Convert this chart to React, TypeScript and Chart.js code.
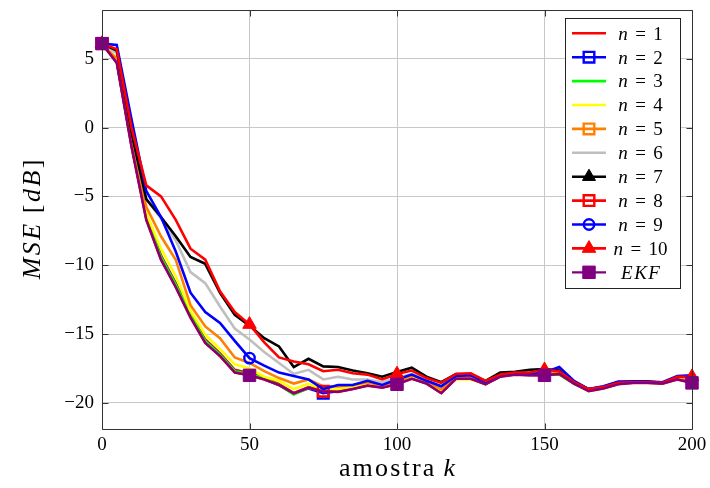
import React, { useEffect, useRef } from "react";
import { Chart, registerables } from "chart.js";

Chart.register(...registerables);

// ---------- data ----------
const kValues = [0, 5, 10, 15, 20, 25, 30, 35, 40, 45, 50, 55, 60, 65, 70, 75, 80, 85, 90, 95, 100, 105, 110, 115, 120, 125, 130, 135, 140, 145, 150, 155, 160, 165, 170, 175, 180, 185, 190, 195, 200];

const mseN1 = [6.1, 4.9, -1.1, -6.4, -9.3, -11.3, -13.5, -15.4, -16.4, -17.6, -17.85, -18.15, -18.65, -19.3, -18.85, -19.1, -19.1, -18.9, -18.7, -18.8, -18.6, -18.2, -18.5, -19.2, -18.2, -18.2, -18.6, -18.05, -17.9, -17.95, -17.95, -17.9, -18.55, -19.1, -18.9, -18.6, -18.5, -18.5, -18.55, -18.25, -18.5];
const mseN2 = [6.1, 4.8, -1.2, -6.5, -9.4, -11.4, -13.6, -15.5, -16.5, -17.7, -17.9, -18.25, -18.7, -19.35, -18.95, -19.3, -19.15, -18.95, -18.7, -18.85, -18.6, -18.2, -18.55, -19.25, -18.2, -18.2, -18.6, -18.05, -17.9, -17.95, -17.95, -17.9, -18.6, -19.1, -18.9, -18.6, -18.5, -18.5, -18.55, -18.25, -18.5];
const mseN3 = [6.1, 4.8, -1.2, -6.5, -9.4, -11.4, -13.6, -15.5, -16.5, -17.7, -17.9, -18.2, -18.7, -19.4, -18.9, -19.15, -19.15, -18.95, -18.7, -18.85, -18.6, -18.2, -18.55, -19.2, -18.2, -18.2, -18.6, -18.05, -17.9, -17.95, -17.95, -17.95, -18.6, -19.1, -18.9, -18.6, -18.5, -18.5, -18.55, -18.25, -18.5];
const mseN4 = [6.1, 5.0, -0.9, -6.2, -8.8, -10.8, -13.3, -15.05, -16.1, -17.2, -17.5, -18.1, -18.4, -19.0, -18.6, -19.1, -19.0, -18.9, -18.6, -18.8, -18.55, -18.1, -18.5, -19.1, -18.3, -18.3, -18.6, -18.05, -17.9, -17.95, -17.9, -17.8, -18.5, -19.0, -18.85, -18.6, -18.5, -18.5, -18.55, -18.2, -18.4];
const mseN5 = [6.1, 5.0, -0.6, -5.75, -7.9, -9.6, -12.9, -14.45, -15.3, -16.7, -17.1, -17.7, -18.2, -18.6, -18.3, -18.8, -18.8, -18.7, -18.5, -18.75, -18.5, -18.0, -18.45, -19.0, -18.1, -18.1, -18.55, -18.0, -17.85, -17.95, -17.85, -17.7, -18.5, -19.0, -18.85, -18.55, -18.5, -18.5, -18.55, -18.2, -18.3];
const mseN6 = [6.1, 5.4, -0.3, -5.2, -6.6, -8.2, -10.5, -11.3, -13.0, -14.6, -15.4, -16.3, -17.1, -17.9, -17.6, -18.3, -18.1, -18.3, -18.3, -18.5, -18.2, -17.9, -18.35, -18.8, -18.0, -18.0, -18.5, -17.95, -17.85, -17.9, -17.8, -17.6, -18.45, -19.0, -18.8, -18.5, -18.45, -18.45, -18.5, -18.15, -18.1];
const mseN7 = [6.1, 5.6, -0.4, -5.2, -6.5, -7.9, -9.4, -9.9, -12.0, -13.6, -14.4, -15.3, -15.9, -17.4, -16.8, -17.35, -17.4, -17.65, -17.85, -18.1, -17.75, -17.45, -18.1, -18.5, -17.9, -17.9, -18.4, -17.8, -17.75, -17.6, -17.55, -17.65, -18.5, -19.0, -18.85, -18.5, -18.45, -18.45, -18.55, -18.1, -18.1];
const mseN8 = [6.1, 4.7, -1.4, -6.7, -9.6, -11.6, -13.8, -15.65, -16.6, -17.8, -18.0, -18.3, -18.7, -19.3, -18.9, -19.15, -19.2, -19.0, -18.75, -18.9, -18.65, -18.25, -18.6, -19.3, -18.25, -18.25, -18.65, -18.1, -17.95, -18.0, -18.0, -17.9, -18.6, -19.15, -18.95, -18.65, -18.55, -18.55, -18.6, -18.3, -18.55];
const mseN9 = [6.1, 6.0, 0.6, -4.6, -6.5, -9.0, -12.0, -13.4, -14.2, -15.5, -16.75, -17.3, -17.8, -18.05, -18.3, -19.0, -18.7, -18.7, -18.4, -18.7, -18.3, -17.95, -18.4, -18.8, -18.05, -18.0, -18.5, -18.0, -17.9, -17.9, -17.8, -17.4, -18.4, -19.0, -18.8, -18.45, -18.45, -18.45, -18.5, -18.05, -18.0];
const mseN10 = [6.1, 5.7, 0.0, -4.2, -5.0, -6.7, -8.8, -9.6, -11.9, -13.4, -14.3, -15.6, -16.7, -17.0, -17.2, -17.7, -17.6, -17.85, -17.95, -18.3, -17.9, -17.65, -18.2, -18.55, -17.9, -17.85, -18.4, -17.95, -17.8, -17.8, -17.6, -17.7, -18.5, -19.0, -18.85, -18.55, -18.5, -18.5, -18.55, -18.1, -18.1];
const mseEKF = [6.1, 4.7, -1.4, -6.7, -9.6, -11.6, -13.8, -15.65, -16.6, -17.8, -18.0, -18.3, -18.7, -19.3, -18.9, -19.2, -19.2, -19.0, -18.75, -18.9, -18.65, -18.25, -18.6, -19.3, -18.25, -18.25, -18.65, -18.1, -17.95, -18.0, -18.0, -17.9, -18.6, -19.15, -18.95, -18.65, -18.55, -18.55, -18.6, -18.3, -18.55];

const seriesNames = ["1", "2", "3", "4", "5", "6", "7", "8", "9", "10", "EKF"];
const xTicks = [0, 50, 100, 150, 200];
const yTicks = [-20, -15, -10, -5, 0, 5];

// ---------- styling ----------
type Marker = "none" | "rectOpen" | "rectFilled" | "circle" | "triangle";
interface SeriesStyle {
  values: number[];
  color: string;
  width: number;
  marker: Marker;
  marks: number[];
  r: number;
}

const styles: SeriesStyle[] = [
  { values: mseN1, color: "#ff0000", width: 2.6, marker: "none", marks: [], r: 0 },
  { values: mseN2, color: "#0000ff", width: 2.6, marker: "rectOpen", marks: [0, 75], r: 7.5 },
  { values: mseN3, color: "#00ff00", width: 2.6, marker: "none", marks: [], r: 0 },
  { values: mseN4, color: "#ffff00", width: 2.6, marker: "none", marks: [], r: 0 },
  { values: mseN5, color: "#ff8000", width: 2.6, marker: "rectOpen", marks: [0], r: 7.5 },
  { values: mseN6, color: "#bfbfbf", width: 2.6, marker: "none", marks: [], r: 0 },
  { values: mseN7, color: "#000000", width: 2.6, marker: "triangle", marks: [0], r: 7.5 },
  { values: mseN8, color: "#ff0000", width: 2.6, marker: "rectOpen", marks: [0, 75], r: 7.5 },
  { values: mseN9, color: "#0000ff", width: 2.6, marker: "circle", marks: [50], r: 5.2 },
  { values: mseN10, color: "#ff0000", width: 2.6, marker: "triangle", marks: [0, 50, 100, 150, 200], r: 7.8 },
  { values: mseEKF, color: "#800080", width: 2.2, marker: "rectFilled", marks: [0, 50, 100, 150, 200], r: 8.8 },
];

const FONT = '"Liberation Serif", "Times New Roman", serif';
const font = (it: boolean, size: number) => `${it ? "italic " : ""}${size}px ${FONT}`;

interface Run { t: string; it?: boolean; gap?: number }

function measureRuns(ctx: CanvasRenderingContext2D, runs: Run[], size: number, tracking: number) {
  let w = 0;
  runs.forEach((r, ri) => {
    w += r.gap || 0;
    ctx.font = font(!!r.it, size);
    const chars = Array.from(r.t);
    chars.forEach((c, ci) => {
      w += ctx.measureText(c).width;
      if (!(ri === runs.length - 1 && ci === chars.length - 1)) w += tracking;
    });
  });
  return w;
}

function drawRuns(ctx: CanvasRenderingContext2D, runs: Run[], x: number, y: number, size: number, tracking: number) {
  let cx = x;
  runs.forEach((r) => {
    cx += r.gap || 0;
    ctx.font = font(!!r.it, size);
    Array.from(r.t).forEach((c) => {
      ctx.fillText(c, cx, y);
      cx += ctx.measureText(c).width + tracking;
    });
  });
}

function drawMarker(ctx: CanvasRenderingContext2D, s: SeriesStyle, x: number, y: number) {
  const r = s.r;
  ctx.save();
  ctx.strokeStyle = s.color;
  ctx.fillStyle = s.color;
  ctx.beginPath();
  if (s.marker === "rectOpen" || s.marker === "rectFilled") {
    const h = r * Math.SQRT1_2;
    ctx.rect(x - h, y - h, 2 * h, 2 * h);
  } else if (s.marker === "circle") {
    ctx.arc(x, y, r, 0, Math.PI * 2);
  } else if (s.marker === "triangle") {
    ctx.moveTo(x, y - r);
    ctx.lineTo(x + 0.866 * r, y + 0.5 * r);
    ctx.lineTo(x - 0.866 * r, y + 0.5 * r);
    ctx.closePath();
  }
  if (s.marker === "rectFilled" || s.marker === "triangle") {
    ctx.fill();
    ctx.lineWidth = 1;
    ctx.stroke();
  } else {
    ctx.lineWidth = 2.4;
    ctx.stroke();
  }
  ctx.restore();
}

const decorPlugin = {
  id: "decor",
  afterDatasetsDraw(chart: any) {
    const { ctx, chartArea: a, scales } = chart;
    const x = scales.x;
    const y = scales.y;
    ctx.save();
    ctx.strokeStyle = "#333";
    ctx.lineWidth = 1;
    const L = Math.round(a.left) + 0.5;
    const R = Math.round(a.right) + 0.5;
    const T = Math.round(a.top) + 0.5;
    const B = Math.round(a.bottom) + 0.5;
    ctx.beginPath();
    const tl = 6;
    xTicks.forEach((v) => {
      const px = Math.round(x.getPixelForValue(v)) + 0.5;
      ctx.moveTo(px, B);
      ctx.lineTo(px, B - tl);
      ctx.moveTo(px, T);
      ctx.lineTo(px, T + tl);
    });
    yTicks.forEach((v) => {
      const py = Math.round(y.getPixelForValue(v)) + 0.5;
      ctx.moveTo(L, py);
      ctx.lineTo(L + tl, py);
      ctx.moveTo(R, py);
      ctx.lineTo(R - tl, py);
    });
    ctx.stroke();
    ctx.beginPath();
    ctx.rect(L, T, R - L, B - T);
    ctx.stroke();
    ctx.restore();
  },
  afterDraw(chart: any) {
    const { ctx, chartArea: a } = chart;
    ctx.save();
    ctx.fillStyle = "#000";
    ctx.textBaseline = "alphabetic";

    // x title
    const xRuns: Run[] = [{ t: "amostra" }, { t: "k", it: true, gap: 7 }];
    const xs = 26;
    const xw = measureRuns(ctx, xRuns, xs, 2.2);
    drawRuns(ctx, xRuns, (a.left + a.right) / 2 - xw / 2, 476, xs, 2.2);

    // y title
    const yRuns: Run[] = [{ t: "MSE", it: true }, { t: "[", gap: 8 }, { t: "dB", it: true }, { t: "]" }];
    const ys = 26;
    const yw = measureRuns(ctx, yRuns, ys, 2.5);
    ctx.save();
    ctx.translate(40, (a.top + a.bottom) / 2);
    ctx.rotate(-Math.PI / 2);
    drawRuns(ctx, yRuns, -yw / 2, 0, ys, 2.5);
    ctx.restore();

    // legend
    const bx = 565.5, by = 18.5, bw = 115, bh = 270;
    ctx.fillStyle = "#fff";
    ctx.fillRect(bx, by, bw, bh);
    ctx.strokeStyle = "#222";
    ctx.lineWidth = 1;
    ctx.strokeRect(bx, by, bw, bh);
    const rowH = 23.9;
    const ls = 19;
    seriesNames.forEach((name, i) => {
      const s = styles[i];
      const cy = 33.3 + i * rowH;
      ctx.save();
      ctx.strokeStyle = s.color;
      ctx.lineWidth = s.width;
      ctx.beginPath();
      ctx.moveTo(572, cy);
      ctx.lineTo(606, cy);
      ctx.stroke();
      ctx.restore();
      if (s.marker !== "none") drawMarker(ctx, s, 589, cy);
      const runs: Run[] = name === "EKF"
        ? [{ t: "EKF", it: true }]
        : [{ t: "n", it: true }, { t: "=", gap: 7.5 }, { t: name, gap: 7.5 }];
      const trk = name === "EKF" ? 1.5 : 0;
      const w = measureRuns(ctx, runs, ls, trk);
      ctx.fillStyle = "#000";
      drawRuns(ctx, runs, 640.5 - w / 2, cy + 6.3, ls, trk);
    });
    ctx.restore();
  },
};

const fmt = (v: number) => (v < 0 ? "\u2212" + Math.abs(v) : String(v));

const zeroPad = (s: any) => {
  s.paddingTop = 0;
  s.paddingBottom = 0;
  s.paddingLeft = 0;
  s.paddingRight = 0;
};

export default function App() {
  const ref = useRef<HTMLCanvasElement>(null);
  useEffect(() => {
    const canvas = ref.current;
    if (!canvas) return;
    const datasets = styles.map((s, i) => ({
      label: seriesNames[i],
      data: kValues.map((k, j) => ({ x: k, y: s.values[j] })),
      borderColor: s.color,
      backgroundColor: s.color,
      borderWidth: s.width,
      pointStyle: s.marker === "circle" ? "circle" : s.marker === "triangle" ? "triangle" : "rect",
      pointRadius: kValues.map((k) => (s.marks.includes(k) ? s.r : 0)),
      pointHoverRadius: kValues.map((k) => (s.marks.includes(k) ? s.r : 0)),
      pointBorderWidth: s.marker === "rectFilled" || s.marker === "triangle" ? 1 : 2.4,
      pointBackgroundColor: s.marker === "rectFilled" || s.marker === "triangle" ? s.color : "rgba(0,0,0,0)",
      pointBorderColor: s.color,
      fill: false,
      tension: 0,
      order: styles.length - i,
      clip: false,
    }));
    const tickFont = { family: FONT, size: 19 };
    const chart = new Chart(canvas, {
      type: "line",
      data: { datasets } as any,
      options: {
        responsive: false,
        animation: false,
        devicePixelRatio: 1,
        events: [],
        layout: { padding: { top: 9, right: 18, left: 0, bottom: 0 } },
        plugins: { legend: { display: false }, tooltip: { enabled: false } },
        scales: {
          x: {
            type: "linear",
            min: 0,
            max: 200,
            afterBuildTicks: (s: any) => {
              s.ticks = xTicks.map((v) => ({ value: v }));
            },
            afterFit: (s: any) => {
              s.height = 59;
              zeroPad(s);
            },
            grid: { color: "#c8c8c8", lineWidth: 1, drawTicks: false },
            border: { display: false },
            ticks: { padding: 5, color: "#000", font: tickFont, maxRotation: 0, callback: (v: any) => fmt(Number(v)) },
          },
          y: {
            type: "linear",
            min: -21.9,
            max: 8.55,
            afterBuildTicks: (s: any) => {
              s.ticks = yTicks.map((v) => ({ value: v }));
            },
            afterFit: (s: any) => {
              s.width = 102;
              zeroPad(s);
            },
            grid: { color: "#c8c8c8", lineWidth: 1, drawTicks: false },
            border: { display: false },
            ticks: { padding: 8, color: "#000", font: tickFont, callback: (v: any) => fmt(Number(v)) },
          },
        },
      } as any,
      plugins: [decorPlugin],
    });
    return () => chart.destroy();
  }, []);
  return (
    <div style={{ position: "absolute", left: 0, top: 0, width: 710, height: 488, background: "#fff" }}>
      <canvas ref={ref} width={710} height={488} style={{ display: "block", width: 710, height: 488 }} />
    </div>
  );
}
